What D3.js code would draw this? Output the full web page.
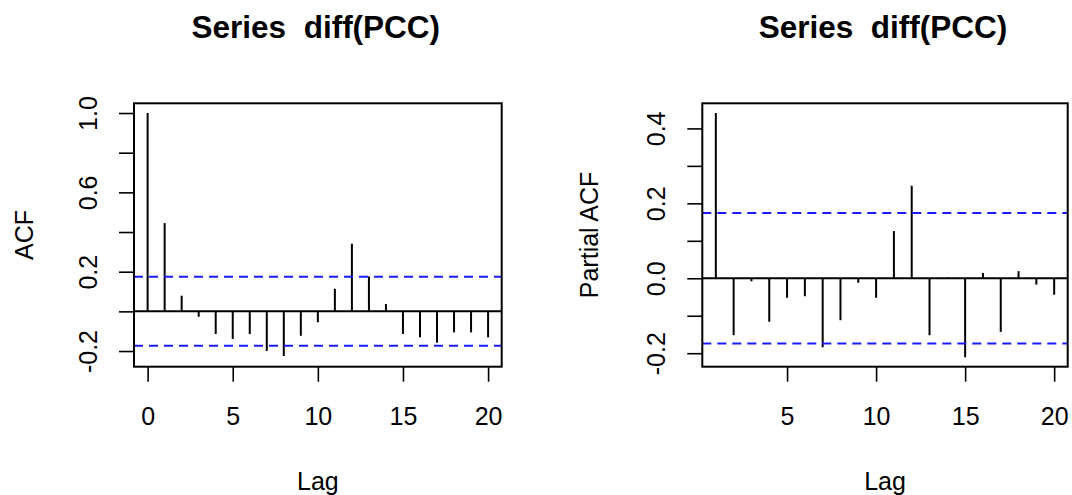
<!DOCTYPE html>
<html>
<head>
<meta charset="utf-8">
<script src="https://cdn.jsdelivr.net/npm/d3@7"></script>
<style>
  html, body { margin: 0; padding: 0; background: #fff; }
  svg text { font-family: "Liberation Sans", Arial, Helvetica, sans-serif; fill: #000; white-space: pre; }
</style>
</head>
<body>
<svg id="chart" width="1072" height="495"></svg>
<script>
// ---- data ----
const titleText = "Series  diff(PCC)";
const acfLags = [0, 1, 2, 3, 4, 5, 6, 7, 8, 9, 10, 11, 12, 13, 14, 15, 16, 17, 18, 19, 20];
const acfValues = [1.0, 0.445, 0.079, -0.027, -0.114, -0.139, -0.114, -0.200, -0.225, -0.123, -0.055,
                   0.114, 0.341, 0.176, 0.037, -0.114, -0.131, -0.158, -0.106, -0.106, -0.131];
const pacfLags = [1, 2, 3, 4, 5, 6, 7, 8, 9, 10, 11, 12, 13, 14, 15, 16, 17, 18, 19, 20];
const pacfValues = [0.441, -0.152, -0.008, -0.116, -0.052, -0.048, -0.184, -0.112, -0.012, -0.052,
                    0.126, 0.247, -0.152, 0.002, -0.211, 0.014, -0.143, 0.019, -0.017, -0.044];
const confLimit = 0.174;
const acfYTicks = [-0.2, 0.0, 0.2, 0.4, 0.6, 0.8, 1.0];
const acfYLabels = [-0.2, 0.2, 0.6, 1.0];
const pacfYTicks = [-0.2, -0.1, 0.0, 0.1, 0.2, 0.3, 0.4];
const pacfYLabels = [-0.2, 0.0, 0.2, 0.4];
const acfXTicks = [0, 5, 10, 15, 20];
const pacfXTicks = [5, 10, 15, 20];

const svg = d3.select("#chart");

function panel(cfg) {
  const x = d3.scaleLinear().domain(cfg.xDomain).range([cfg.left, cfg.right]);
  const y = d3.scaleLinear().domain(cfg.yDomain).range([cfg.bottom, cfg.top]);
  const g = svg.append("g");
  const cx = (cfg.left + cfg.right) / 2;
  const cy = (cfg.top + cfg.bottom) / 2;

  // title
  g.append("text").attr("x", cx - 2).attr("y", 38).attr("text-anchor", "middle")
    .style("font-size", "31.5px").style("font-weight", "bold").text(titleText);

  // x axis
  const xa = d3.axisBottom(x).tickValues(cfg.xTicks).tickSize(15)
    .tickFormat(d => String(d));
  const gx = g.append("g").attr("transform", `translate(0,${cfg.bottom})`).call(xa);
  gx.select(".domain").remove();
  gx.selectAll(".tick line").attr("stroke", "#000").attr("stroke-width", 1.6);
  gx.selectAll(".tick text").attr("y", 58).attr("dy", 0)
    .style("font-size", "25px").attr("fill", "#000");

  // y axis
  const ya = d3.axisLeft(y).tickValues(cfg.yTicks).tickSize(15)
    .tickFormat(d => cfg.yLabels.some(v => Math.abs(v - d) < 1e-9) ? d.toFixed(1) : "");
  const gy = g.append("g").attr("transform", `translate(${cfg.left},0)`).call(ya);
  gy.select(".domain").remove();
  gy.selectAll(".tick line").attr("stroke", "#000").attr("stroke-width", 1.6);
  gy.selectAll(".tick text").attr("x", null).attr("dy", 0)
    .attr("transform", "translate(-37,0) rotate(-90)")
    .attr("text-anchor", "middle")
    .style("font-size", "25px").attr("fill", "#000");

  // axis labels
  g.append("text").attr("x", cx).attr("y", 490).attr("text-anchor", "middle")
    .style("font-size", "25px").text("Lag");
  g.append("text").attr("transform", `translate(${cfg.left - cfg.ylabOffset},${cy}) rotate(-90)`)
    .attr("text-anchor", "middle").style("font-size", "25px").text(cfg.ylab);

  // zero line
  g.append("line").attr("x1", cfg.left).attr("x2", cfg.right)
    .attr("y1", y(0)).attr("y2", y(0)).attr("stroke", "#000").attr("stroke-width", 2);

  // spikes
  g.selectAll("line.spike").data(cfg.lags.map((l, i) => ({ lag: l, v: cfg.values[i] })))
    .enter().append("line").attr("class", "spike")
    .attr("x1", d => x(d.lag)).attr("x2", d => x(d.lag))
    .attr("y1", y(0)).attr("y2", d => y(d.v))
    .attr("stroke", "#000").attr("stroke-width", 2);

  // confidence limits
  [confLimit, -confLimit].forEach(c => {
    g.append("line").attr("x1", cfg.left).attr("x2", cfg.right)
      .attr("y1", y(c)).attr("y2", y(c))
      .attr("stroke", "#1a1aff").attr("stroke-width", 2).attr("stroke-dasharray", "9,6");
  });

  // box
  g.append("rect").attr("x", cfg.left).attr("y", cfg.top)
    .attr("width", cfg.right - cfg.left).attr("height", cfg.bottom - cfg.top)
    .attr("fill", "none").attr("stroke", "#000").attr("stroke-width", 2);
}

panel({
  left: 134, right: 501.7, top: 103.3, bottom: 366.7,
  xDomain: [-0.8, 20.8], yDomain: [-0.279, 1.049],
  lags: acfLags, values: acfValues,
  xTicks: acfXTicks, yTicks: acfYTicks, yLabels: acfYLabels,
  ylab: "ACF", ylabOffset: 101
});

panel({
  left: 702.3, right: 1067.7, top: 103.3, bottom: 366.7,
  xDomain: [0.24, 20.76], yDomain: [-0.236, 0.467],
  lags: pacfLags, values: pacfValues,
  xTicks: pacfXTicks, yTicks: pacfYTicks, yLabels: pacfYLabels,
  ylab: "Partial ACF", ylabOffset: 104
});
</script>
</body>
</html>
